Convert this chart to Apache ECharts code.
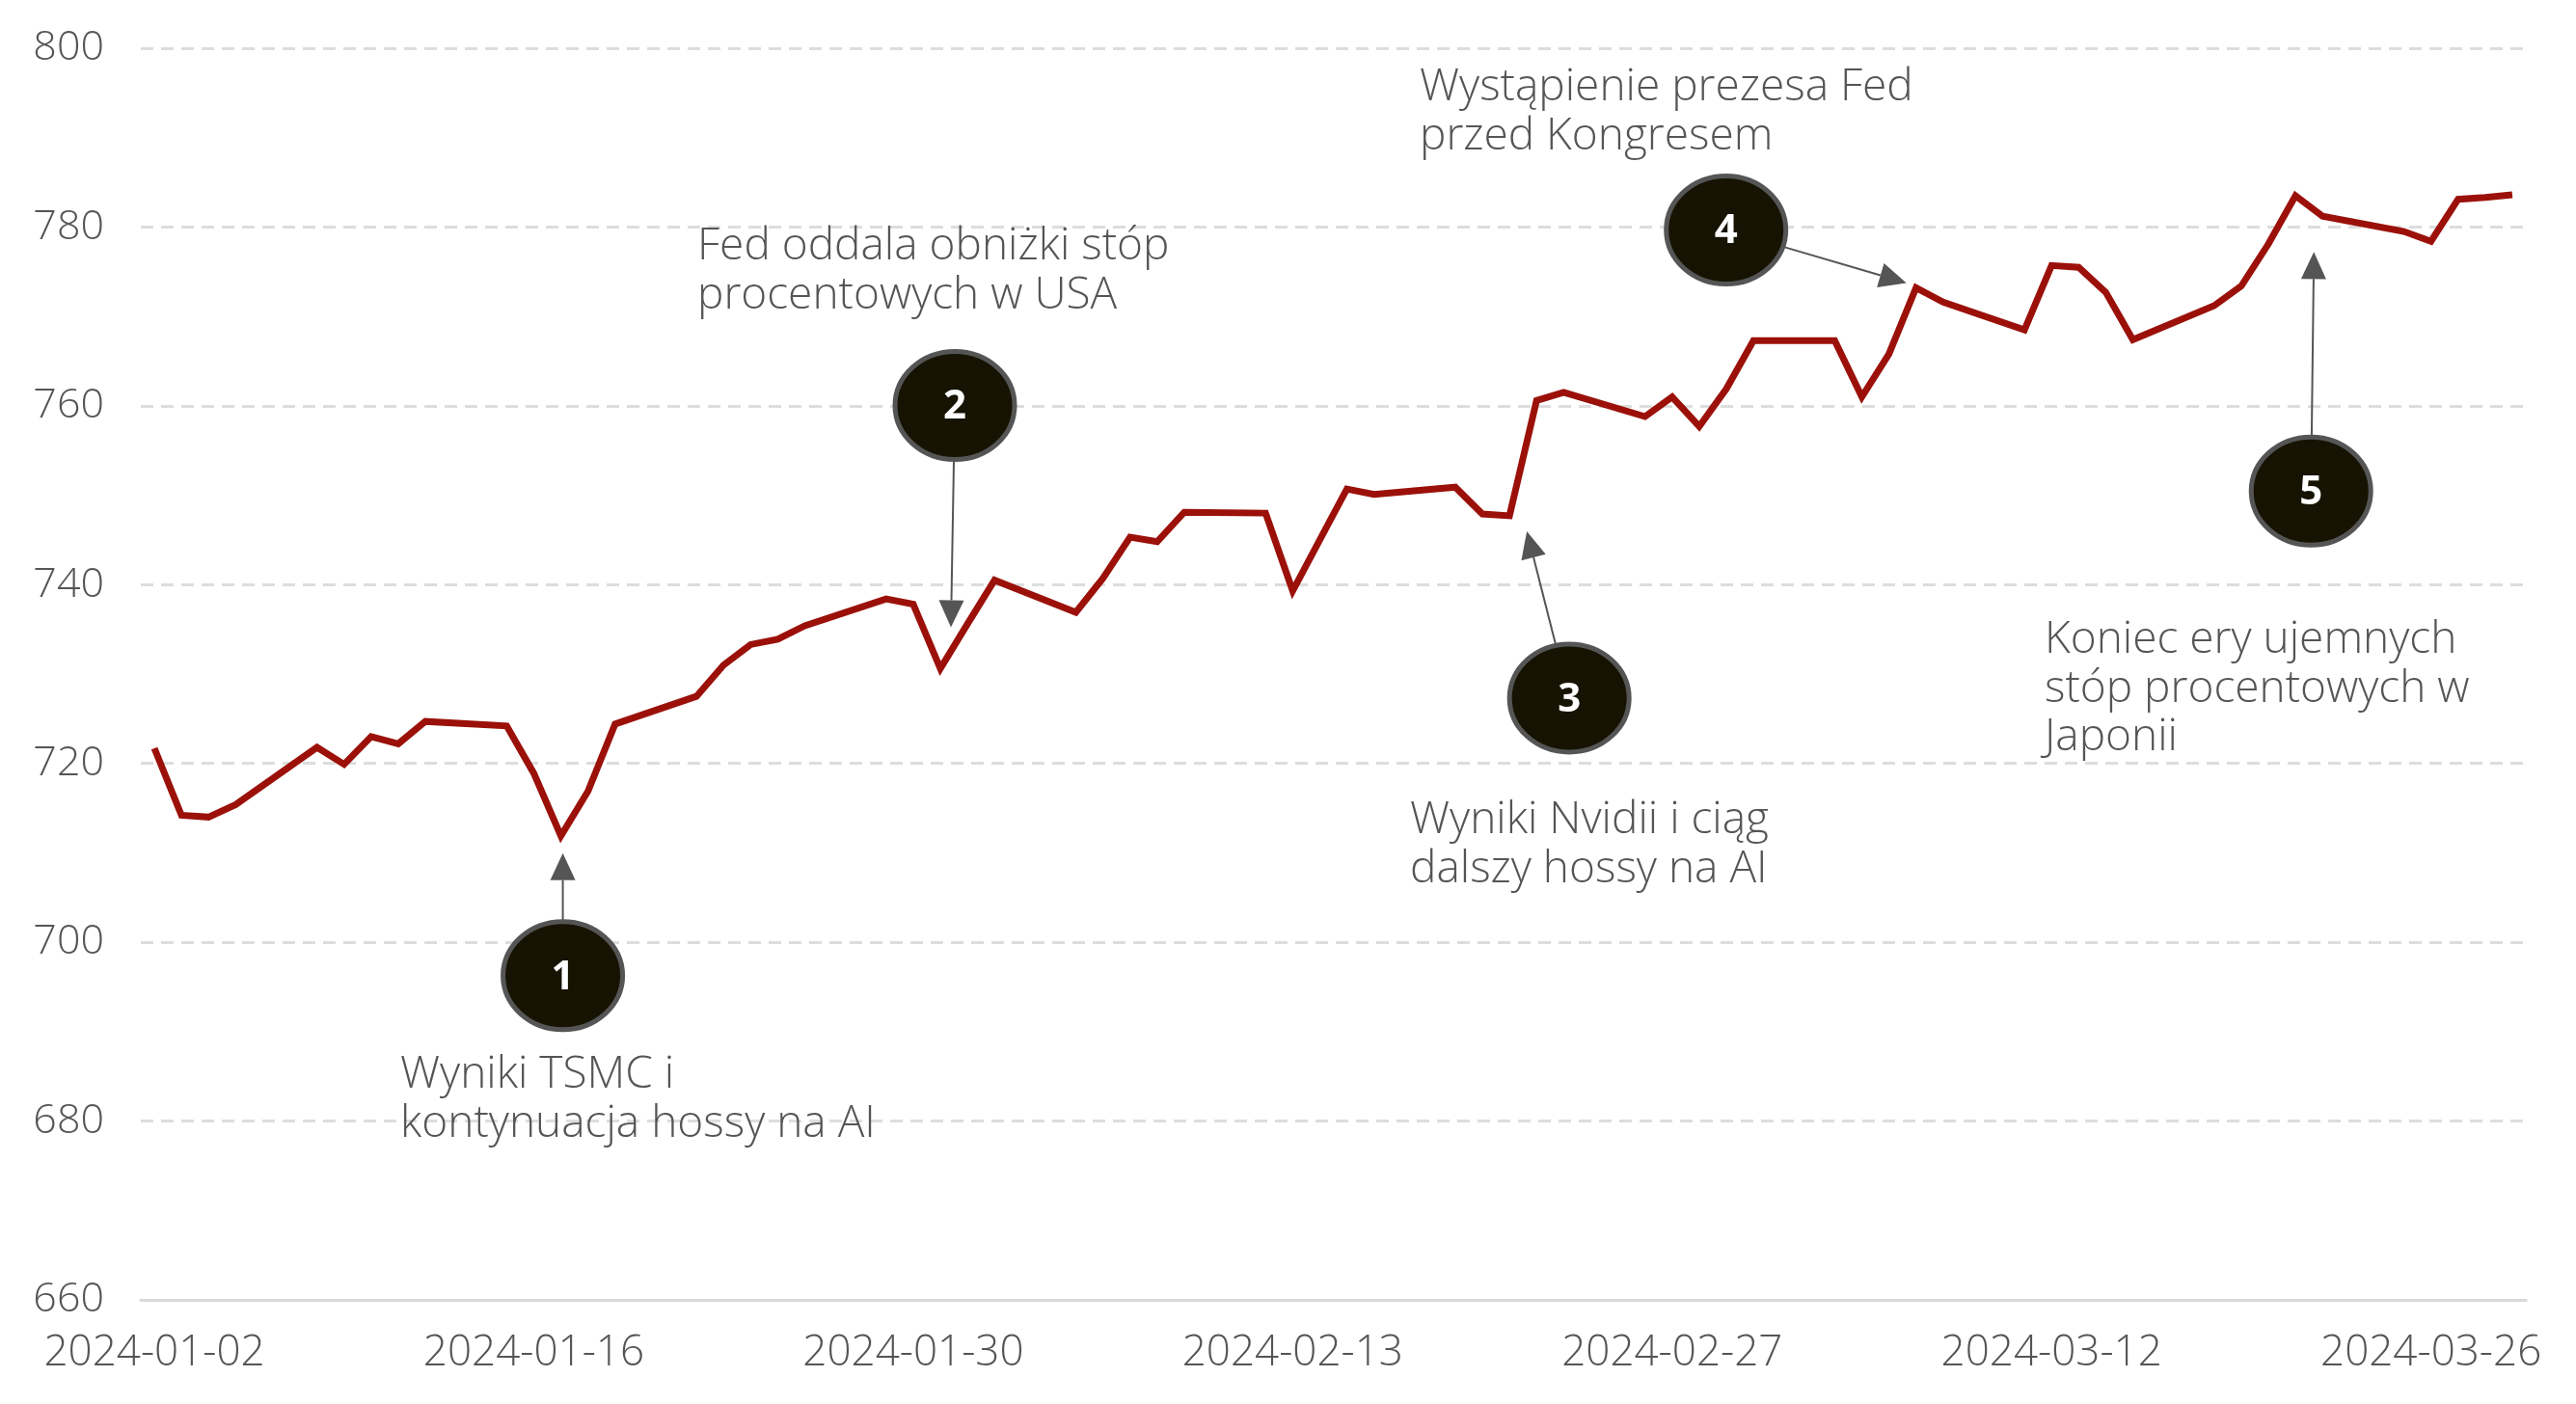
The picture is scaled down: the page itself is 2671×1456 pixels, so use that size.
<!DOCTYPE html>
<html><head><meta charset="utf-8">
<script src="https://cdn.jsdelivr.net/npm/echarts@6/dist/echarts.min.js"></script>
<style>html,body{margin:0;padding:0;background:#fff}#c{width:2671px;height:1456px}</style>
</head><body><div id="c"></div>
<script>
// ---- data ----
const axisStart = '2024-01-02';
const axisEnd = '2024-03-29';
const tradeDates = [
 '2024-01-02','2024-01-03','2024-01-04','2024-01-05','2024-01-08','2024-01-09','2024-01-10','2024-01-11','2024-01-12',
 '2024-01-15','2024-01-16','2024-01-17','2024-01-18','2024-01-19','2024-01-22','2024-01-23','2024-01-24','2024-01-25','2024-01-26',
 '2024-01-29','2024-01-30','2024-01-31','2024-02-01','2024-02-02','2024-02-05','2024-02-06','2024-02-07','2024-02-08','2024-02-09',
 '2024-02-12','2024-02-13','2024-02-14','2024-02-15','2024-02-16','2024-02-19','2024-02-20','2024-02-21','2024-02-22','2024-02-23',
 '2024-02-26','2024-02-27','2024-02-28','2024-02-29','2024-03-01','2024-03-04','2024-03-05','2024-03-06','2024-03-07','2024-03-08',
 '2024-03-11','2024-03-12','2024-03-13','2024-03-14','2024-03-15','2024-03-18','2024-03-19','2024-03-20','2024-03-21','2024-03-22',
 '2024-03-25','2024-03-26','2024-03-27','2024-03-28','2024-03-29'];
const indexValues = [
 721.7,714.2,714.0,715.4,721.8,719.9,723.0,722.2,724.7,
 724.2,718.9,711.9,716.9,724.4,727.5,731.0,733.3,733.9,735.4,
 738.4,737.8,730.6,735.6,740.5,736.9,740.7,745.3,744.8,748.1,
 748.0,739.3,745.0,750.7,750.1,750.9,747.9,747.7,760.6,761.5,
 758.8,761.0,757.7,761.9,767.3,767.3,761.0,765.8,773.2,771.6,
 768.5,775.7,775.5,772.7,767.4,771.2,773.4,778.1,783.5,781.2,
 779.5,778.4,783.1,783.3,783.6];
const yMin = 660, yMax = 800, yStep = 20;
const eventNumbers = ['1','2','3','4','5'];
const eventDates = ['2024-01-17','2024-01-31','2024-02-21','2024-03-07','2024-03-22'];
const eventTexts = [
 'Wyniki TSMC i\nkontynuacja hossy na AI',
 'Fed oddala obniżki stóp\nprocentowych w USA',
 'Wyniki Nvidii i ciąg\ndalszy hossy na AI',
 'Wystąpienie prezesa Fed\nprzed Kongresem',
 'Koniec ery ujemnych\nstóp procentowych w\nJaponii'];

// ---- layout (pixels; tip/circle relative to the event's data point, text absolute) ----
const eventLayout = [
 {tip: [2, 18],   circle: [2, 145],    text: [415, 1090]},
 {tip: [11, -43], circle: [15, -273],  text: [723, 231]},
 {tip: [18, 16],  circle: [62, 189],   text: [1462, 826]},
 {tip: [-10, -5], circle: [-197, -60], text: [1472, 66]},
 {tip: [-9, 37],  circle: [-12, 285],  text: [2120, 639]}
];

// ---- build the category axis (every calendar day) ----
const categories = [];
{
  let d = new Date(axisStart + 'T00:00:00Z');
  const e = new Date(axisEnd + 'T00:00:00Z');
  while (d <= e) { categories.push(d.toISOString().slice(0, 10)); d = new Date(d.getTime() + 86400000); }
}
const valMap = {};
tradeDates.forEach((t, i) => { valMap[t] = indexValues[i]; });
const seriesData = categories.map(c => (c in valMap) ? valMap[c] : null);

const FONT = '"Open Sans", Lato, sans-serif';
const chart = echarts.init(document.getElementById('c'));
chart.setOption({
  animation: false,
  backgroundColor: '#fff',
  grid: {left: 146, right: 52, top: 50, bottom: 108},
  xAxis: {
    type: 'category', data: categories, boundaryGap: true,
    axisLine: {lineStyle: {color: '#d9d9d9', width: 3}},
    axisTick: {interval: 13, length: 12, lineStyle: {color: '#d9d9d9', width: 2}},
    axisLabel: {interval: 13, color: '#555', fontFamily: FONT, fontWeight: 300, fontSize: 44, margin: 33},
    splitLine: {show: false}
  },
  yAxis: {
    type: 'value', min: yMin, max: yMax, interval: yStep,
    axisLine: {show: false}, axisTick: {show: false},
    axisLabel: {color: '#555', fontFamily: FONT, fontWeight: 300, fontSize: 43, margin: 38},
    splitLine: {lineStyle: {color: '#dddddd', width: 3, type: [13, 8]}}
  },
  series: [{
    type: 'line', data: seriesData, connectNulls: true, showSymbol: false, symbol: 'none',
    lineStyle: {color: '#9b110a', width: 7, join: 'miter'}, z: 3
  }]
});

function buildGraphics() {
  const els = [];
  const rx = 62, ry = 56;
  eventDates.forEach((dt, i) => {
    const L = eventLayout[i];
    const p = chart.convertToPixel({seriesIndex: 0}, [dt, valMap[dt]]);
    const tip = [p[0] + L.tip[0], p[1] + L.tip[1]];
    const c = [p[0] + L.circle[0], p[1] + L.circle[1]];
    const dx = tip[0] - c[0], dy = tip[1] - c[1];
    const len = Math.hypot(dx, dy); const ux = dx / len, uy = dy / len;
    const edge = 1 / Math.sqrt((ux / rx) ** 2 + (uy / ry) ** 2) + 2;
    const start = [c[0] + ux * edge, c[1] + uy * edge];
    const headL = 28, headW = 13;
    const base = [tip[0] - ux * headL, tip[1] - uy * headL];
    els.push({type: 'line', z: 10, shape: {x1: start[0], y1: start[1], x2: base[0], y2: base[1]}, style: {stroke: '#555', lineWidth: 2}});
    els.push({type: 'polygon', z: 10, shape: {points: [tip, [base[0] - uy * headW, base[1] + ux * headW], [base[0] + uy * headW, base[1] - ux * headW]]}, style: {fill: '#555'}});
    els.push({type: 'ellipse', z: 11, shape: {cx: c[0], cy: c[1], rx: rx, ry: ry}, style: {fill: '#171302', stroke: '#555', lineWidth: 5}});
    els.push({type: 'text', z: 12, x: c[0], y: c[1] + 2, style: {text: eventNumbers[i], fill: '#fff', font: 'bold 42px ' + FONT, textAlign: 'center', textVerticalAlign: 'middle'}});
    els.push({type: 'text', z: 12, x: L.text[0], y: L.text[1], style: {text: eventTexts[i], fill: '#555', font: '300 46px ' + FONT, lineHeight: 50.5, textAlign: 'left', textVerticalAlign: 'top'}});
  });
  chart.setOption({graphic: els});
}
buildGraphics();
</script>
</body></html>
